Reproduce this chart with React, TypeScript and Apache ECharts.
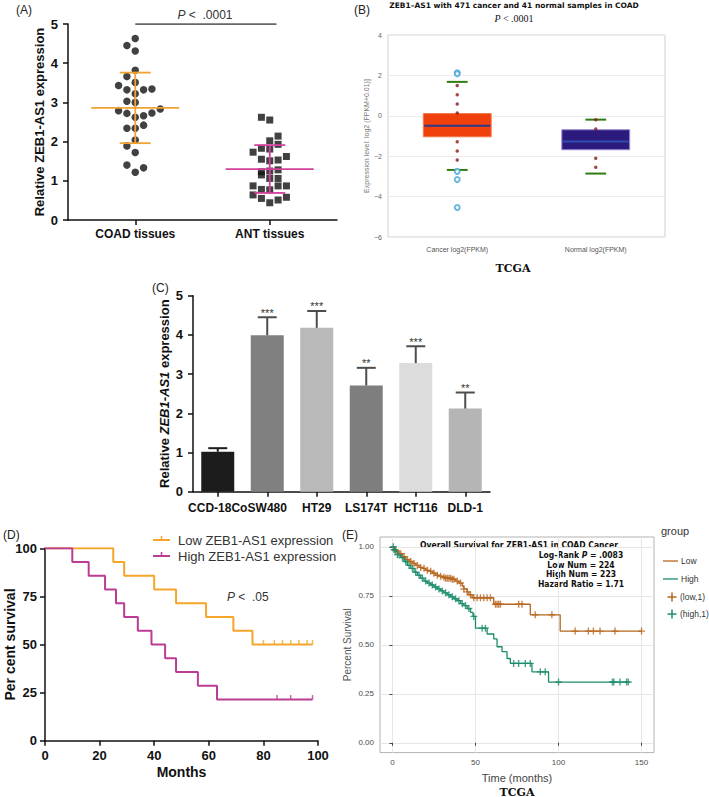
import React, { useEffect, useRef } from "react";
import * as echarts from "echarts";

const FONT = "'Liberation Sans', Arial, Helvetica, sans-serif";
const COND = "'DejaVu Sans Condensed', 'Liberation Sans Narrow', 'DejaVu Sans', sans-serif";

// ---------- Panel A: scatter dot plot ----------
const aCategories = ["COAD tissues", "ANT tissues"];
const coadValues = [4.63, 4.45, 4.31, 3.82, 3.66, 3.51, 3.43, 3.32, 3.32, 3.34, 3.22, 3.03, 3.0, 2.79, 2.72, 2.62, 2.66, 2.73, 2.83, 2.34, 2.34, 2.42, 2.04, 1.89, 1.72, 1.4, 1.33, 1.22];
const coadSlots = [0, -1, 0, 0, -1, 0, -2, -1, 1, 2, 0, -1, 0, -2, -1, 0, 1, 2, 3, -1, 0, 1, 0, -1, 0, -1, 1, 0];
const antValues = [2.62, 2.55, 2.14, 2.02, 1.93, 1.83, 1.81, 1.73, 1.62, 1.55, 1.51, 1.53, 1.28, 1.23, 1.25, 1.15, 1.06, 1.06, 0.87, 0.87, 0.87, 0.78, 0.77, 0.64, 0.55, 0.58, 0.51, 0.44];
const antSlots = [-1, 0, 1, 0, 1, -1, 0, -2, 2, -1, 0, 1, 1, -1, 0, -1, 1, 0, -2, 1, 2, -1, 0, -2, -1, 2, 1, 0];
const aMeans = [2.86, 1.3];
const aSds = [0.9, 0.61];
const aLineColors = ["#f0a330", "#d2409c"];

// ---------- Panel B: TCGA box plot ----------
const bTitle = "ZEB1\u2013AS1 with 471 cancer and 41 normal samples in COAD";
const bCategories = ["Cancer log2(FPKM)", "Normal log2(FPKM)"];
const bLowCap = [-2.68, -2.86];
const bQ1 = [-1.04, -1.68];
const bMedian = [-0.49, -1.27];
const bQ3 = [0.11, -0.69];
const bHighCap = [1.68, -0.19];
const bCancerDots = [1.5, 1.04, 0.58, 0.14, -1.28, -1.74, -2.19];
const bNormalDots = [-0.2, -0.65, -2.1, -2.55];
const bCancerOutliers = [2.13, 2.08, -2.75, -3.15, -4.54];
const bBoxColors = ["#f0400c", "#2c1a7c"];
const bBoxBorders = ["#f27a4a", "#9a88d6"];
const bMedianColors = ["#2b3a8a", "#2f4cb0"];

// ---------- Panel C: cell-line bars ----------
const cCategories = ["CCD-18Co", "SW480", "HT29", "LS174T", "HCT116", "DLD-1"];
const cMeans = [1.02, 3.99, 4.18, 2.71, 3.28, 2.12];
const cErrTop = [1.11, 4.45, 4.61, 3.16, 3.71, 2.53];
const cStars = ["", "***", "***", "**", "***", "**"];
const cColors = ["#1c1c1c", "#808080", "#b9b9b9", "#7e7e7e", "#dcdcdc", "#b5b5b5"];

// ---------- Panel D: Kaplan-Meier (own cohort) ----------
const dLowSteps = [[0, 100], [25, 92.9], [29, 85.7], [40, 78.6], [48, 71.4], [59, 64.3], [69, 57.1], [76, 50], [98, 50]];
const dHighSteps = [[0, 100], [10, 92.9], [16, 85.7], [22, 78.6], [26, 71.4], [29, 64.3], [34, 57.1], [39, 50], [44, 42.9], [48, 35.7], [56, 28.6], [63, 21.4], [98, 21.4]];
const dLowCensor = [80, 84, 87, 90, 93, 96, 98];
const dHighCensor = [85, 90, 98];

// ---------- Panel E: Kaplan-Meier (TCGA) ----------
const eLowSteps = [[0, 1], [1, 0.99], [2, 0.98], [4, 0.965], [6, 0.95], [8, 0.935], [10, 0.925], [12, 0.915], [14, 0.905], [16, 0.895], [18, 0.89], [20, 0.88], [22, 0.875], [24, 0.865], [26, 0.855], [28, 0.85], [30, 0.845], [32, 0.84], [36, 0.835], [38, 0.825], [40, 0.815], [42, 0.8], [43, 0.785], [45, 0.77], [46, 0.755], [48, 0.74], [61, 0.707], [83, 0.653], [101, 0.57], [150, 0.57]];
const eHighSteps = [[0, 1], [1, 0.985], [2, 0.975], [3, 0.96], [5, 0.945], [7, 0.925], [9, 0.905], [11, 0.89], [13, 0.87], [15, 0.855], [17, 0.84], [19, 0.825], [21, 0.815], [23, 0.805], [25, 0.795], [27, 0.785], [29, 0.775], [31, 0.765], [33, 0.755], [35, 0.745], [37, 0.735], [39, 0.725], [41, 0.71], [43, 0.7], [45, 0.685], [47, 0.665], [48.5, 0.645], [50, 0.585], [57, 0.555], [61, 0.53], [63, 0.49], [66, 0.465], [69, 0.43], [71, 0.405], [84, 0.362], [94, 0.31], [142, 0.31]];
const eLowCensor = [2, 5, 7, 9, 11, 13, 15, 17, 19, 21, 23, 25, 27, 29, 31, 32, 33, 34, 35, 36, 37, 39, 41, 43, 45, 47, 49, 51, 53, 55, 57, 59, 62, 63, 64, 65, 76, 78, 86, 96, 110, 118, 121, 125, 134, 150];
const eHighCensor = [0.5, 1, 1.5, 3, 4, 6, 8, 10, 12, 14, 16, 18, 20, 22, 24, 26, 28, 30, 32, 34, 36, 38, 40, 42, 44, 46, 49, 54, 56, 73, 76, 80, 83, 89, 92, 100, 132.5, 133.3, 137, 141, 142];
const eTicksX = [0, 50, 100, 150];
const eTicksY = [0, 0.25, 0.5, 0.75, 1];
const eStats = ["Log-Rank P = .0083", "Low Num = 224", "High Num = 223", "Hazard Ratio = 1.71"];

const SLOT = 0.062;
const BROWN = "#b8661f";
const TEAL = "#1a8c6c";
const D_ORANGE = "#f5a52a";
const D_MAGENTA = "#bb3c94";
const PLUS = "path://M4,0H6V4H10V6H6V10H4V6H0V4H4Z";

function survAt(steps: number[][], t: number) {
  let v = steps[0][1];
  for (const [x, y] of steps) if (x <= t) v = y;
  return v;
}

const black = { color: "#111", width: 1.5 };
const bold = (size: number) => ({ color: "#111", fontWeight: "bold" as const, fontSize: size, fontFamily: FONT });

function buildOption(): any {
  const txt = (x: number, y: number, text: string, style: any) => ({
    type: "text",
    x,
    y,
    style: { text, fill: "#222", fontFamily: FONT, textVerticalAlign: "middle", ...style },
  });
  const ln = (x1: number, y1: number, x2: number, y2: number, stroke: string, lineWidth = 1.5) => ({
    type: "line",
    shape: { x1, y1, x2, y2 },
    style: { stroke, lineWidth },
  });

  const graphic: any[] = [
    txt(16, 10, "(A)", { fontSize: 12 }),
    txt(354, 10, "(B)", { fontSize: 12 }),
    txt(152, 288, "(C)", { fontSize: 12 }),
    txt(3, 535, "(D)", { fontSize: 12 }),
    txt(342, 535, "(E)", { fontSize: 12 }),
    txt(205, 15, "{i|P} <  .0001", { fontSize: 12, fill: "#333", textAlign: "center", rich: { i: { fontStyle: "italic", fontSize: 12, fill: "#333" } } }),
    txt(514, 18, "{i|P} < .0001", { fontSize: 10, fontFamily: "'Liberation Serif', serif", textAlign: "center", fill: "#111", rich: { i: { fontStyle: "italic", fontSize: 10, fontFamily: "'Liberation Serif', serif" } } }),
    txt(513, 268, "TCGA", { fontSize: 11, fontWeight: "bold", fontFamily: "'DejaVu Serif', serif", textAlign: "center", fill: "#111" }),
    txt(517, 792, "TCGA", { fontSize: 11, fontWeight: "bold", fontFamily: "'DejaVu Serif', serif", textAlign: "center", fill: "#111" }),
    // Panel D legend
    ln(153, 540, 170, 540, D_ORANGE, 2),
    ln(161.5, 536, 161.5, 540, D_ORANGE, 1.5),
    txt(178, 540, "Low ZEB1-AS1 expression", { fontSize: 13, fill: "#333" }),
    ln(153, 556, 170, 556, D_MAGENTA, 2),
    ln(161.5, 552, 161.5, 556, D_MAGENTA, 1.5),
    txt(178, 556, "High ZEB1-AS1 expression", { fontSize: 13, fill: "#333" }),
    txt(227, 597, "{i|P} <  .05", { fontSize: 12, fill: "#333", rich: { i: { fontStyle: "italic", fontSize: 12, fill: "#333" } } }),
    // Panel E annotation
    txt(519, 545, "Overall Survival for ZEB1-AS1 in COAD Cancer", {
      fontSize: 8.5, fontWeight: "bold", fontFamily: COND, textAlign: "center", fill: "#111",
    }),
    ...eStats.map((s, i) =>
      txt(581, 555 + i * 9.6, s.replace("P =", "{i|P} ="), {
        fontSize: 8.5, fontWeight: "bold", fontFamily: COND, textAlign: "center", fill: "#111",
        rich: { i: { fontStyle: "italic", fontWeight: "bold", fontSize: 8.5, fontFamily: COND } },
      })
    ),
    // Panel E legend
    txt(661, 531, "group", { fontSize: 11, fill: "#333" }),
    ln(663, 561, 678, 561, BROWN, 1.3),
    txt(681, 561, "Low", { fontSize: 8.5, fill: "#333" }),
    ln(663, 579, 678, 579, TEAL, 1.3),
    txt(681, 579, "High", { fontSize: 8.5, fill: "#333" }),
    ln(667.5, 597, 676.5, 597, BROWN, 1.5),
    ln(672, 592.5, 672, 601.5, BROWN, 1.5),
    txt(680, 597, "(low,1)", { fontSize: 8.5, fill: "#333" }),
    ln(667.5, 614, 676.5, 614, TEAL, 1.5),
    ln(672, 609.5, 672, 618.5, TEAL, 1.5),
    txt(680, 614, "(high,1)", { fontSize: 8.5, fill: "#333" }),
  ];

  return {
    animation: false,
    textStyle: { fontFamily: FONT },
    title: [
      {
        text: bTitle, left: 514, top: 1, textAlign: "center", padding: 0,
        textStyle: { fontSize: 7.5, fontWeight: "bold", fontFamily: "'DejaVu Sans', sans-serif", color: "#111" },
      },
    ],
    grid: [
      { left: 68, top: 24, width: 269, height: 196, outerBoundsMode: "none" },
      { left: 388, top: 35, width: 277, height: 202, show: true, borderColor: "#cfcfcf", borderWidth: 1, outerBoundsMode: "none" },
      { left: 193, top: 295.7, width: 297, height: 196, outerBoundsMode: "none" },
      { left: 45, top: 548.3, width: 273, height: 192.4, outerBoundsMode: "none" },
      { left: 380, top: 537, width: 274, height: 215.6, show: true, borderColor: "#b3b3b3", borderWidth: 1, outerBoundsMode: "none" },
    ],
    xAxis: [
      { gridIndex: 0, type: "value", min: 0, max: 2, show: false, position: "bottom" },
      {
        gridIndex: 0, type: "category", data: aCategories, boundaryGap: true, position: "bottom",
        axisLine: { show: true, lineStyle: black },
        axisTick: { show: true, alignWithLabel: true, length: 5, lineStyle: black },
        axisLabel: { ...bold(12), margin: 8, interval: 0 },
        splitLine: { show: false },
      },
      {
        gridIndex: 1, type: "category", data: bCategories,
        axisLine: { show: false }, axisTick: { show: false },
        axisLabel: { color: "#555", fontSize: 7, margin: 9, interval: 0 },
        splitLine: { show: false },
      },
      {
        gridIndex: 2, type: "category", data: cCategories,
        axisLine: { show: true, lineStyle: black },
        axisTick: { show: true, alignWithLabel: true, length: 5, lineStyle: black },
        axisLabel: { ...bold(12), margin: 10, interval: 0, hideOverlap: false },
        splitLine: { show: false },
      },
      {
        gridIndex: 3, type: "value", min: 0, max: 100, interval: 20,
        axisLine: { show: true, lineStyle: black },
        axisTick: { show: true, length: 5, lineStyle: black },
        axisLabel: { ...bold(13), margin: 8 },
        splitLine: { show: false },
        name: "Months", nameLocation: "middle", nameGap: 24, nameMoveOverlap: false,
        nameTextStyle: bold(14),
      },
      {
        gridIndex: 4, type: "value", min: -7.5, max: 157.5,
        axisLine: { show: false },
        axisTick: { show: true, length: 3, lineStyle: { color: "#444" }, customValues: eTicksX },
        axisLabel: { color: "#4d4d4d", fontSize: 8, margin: 6, customValues: eTicksX },
        splitLine: { show: true, lineStyle: { color: "#e6e6e6" } },
        name: "Time (months)", nameLocation: "middle", nameGap: 20, nameMoveOverlap: false,
        nameTextStyle: { color: "#444", fontSize: 11 },
      },
    ],
    yAxis: [
      {
        gridIndex: 0, type: "value", min: 0, max: 5, interval: 1,
        axisLine: { show: true, lineStyle: black },
        axisTick: { show: true, length: 5, lineStyle: black },
        axisLabel: { ...bold(13), margin: 10 },
        splitLine: { show: false },
        name: "Relative ZEB1-AS1 expression", nameLocation: "middle", nameGap: 22, nameMoveOverlap: false,
        nameTextStyle: bold(13),
      },
      {
        gridIndex: 1, type: "value", min: -6, max: 4, interval: 2,
        axisLine: { show: false }, axisTick: { show: false },
        axisLabel: { color: "#666", fontSize: 7, margin: 6, formatter: (v: number) => (v < 0 ? "\u2212" + Math.abs(v) : String(v)) },
        splitLine: { show: true, lineStyle: { color: "#ececec" } },
        name: "Expression level: log2 (FPKM+0.01)]", nameLocation: "middle", nameGap: 18, nameMoveOverlap: false,
        nameTextStyle: { color: "#777", fontSize: 7 },
      },
      {
        gridIndex: 2, type: "value", min: 0, max: 5, interval: 1,
        axisLine: { show: true, lineStyle: black },
        axisTick: { show: true, length: 5, lineStyle: black },
        axisLabel: { ...bold(13), margin: 10 },
        splitLine: { show: false },
        name: "{n|Relative }{i|ZEB1-AS1}{n| expression}", nameLocation: "middle", nameGap: 22, nameMoveOverlap: false,
        nameTextStyle: { rich: { n: bold(13), i: { ...bold(13), fontStyle: "italic" } } },
      },
      {
        gridIndex: 3, type: "value", min: 0, max: 100, interval: 25,
        axisLine: { show: true, lineStyle: black },
        axisTick: { show: true, length: 5, lineStyle: black },
        axisLabel: { ...bold(13), margin: 8 },
        splitLine: { show: false },
        name: "Per cent survival", nameLocation: "middle", nameGap: 28, nameMoveOverlap: false,
        nameTextStyle: bold(14),
      },
      {
        gridIndex: 4, type: "value", min: -0.05, max: 1.05,
        axisLine: { show: false },
        axisTick: { show: true, length: 3, lineStyle: { color: "#444" }, customValues: eTicksY },
        axisLabel: { color: "#4d4d4d", fontSize: 8, margin: 6, customValues: eTicksY, formatter: (v: number) => v.toFixed(2) },
        splitLine: { show: true, lineStyle: { color: "#e6e6e6" } },
        name: "Percent Survival", nameLocation: "middle", nameGap: 28, nameMoveOverlap: false,
        nameTextStyle: { color: "#555", fontSize: 10 },
      },
    ],
    series: [
      // ---- A ----
      {
        type: "custom", xAxisIndex: 0, yAxisIndex: 0, z: 3,
        data: aMeans.map((m, i) => [i + 0.5, m, aSds[i]]),
        encode: { x: 0, y: 1 },
        renderItem: (params: any, api: any) => {
          const i = params.dataIndex;
          const cx = api.value(0), m = api.value(1), sd = api.value(2);
          const pm = api.coord([cx, m]);
          const pu = api.coord([cx, m + sd]);
          const pl = api.coord([cx, m - sd]);
          const col = aLineColors[i];
          const hw = 44, sw = 15.5;
          return {
            type: "group",
            children: [
              ln(pm[0], pu[1], pm[0], pl[1], col, 1.8),
              ln(pm[0] - hw, pm[1], pm[0] + hw, pm[1], col, 1.8),
              ln(pm[0] - sw, pu[1], pm[0] + sw, pu[1], col, 1.8),
              ln(pm[0] - sw, pl[1], pm[0] + sw, pl[1], col, 1.8),
            ],
          };
        },
      },
      {
        type: "scatter", xAxisIndex: 0, yAxisIndex: 0, symbol: "circle", symbolSize: 7.5, z: 2,
        itemStyle: { color: "#121212" },
        data: coadValues.map((v, i) => [0.5 + coadSlots[i] * SLOT, v]),
      },
      {
        type: "scatter", xAxisIndex: 0, yAxisIndex: 0, symbol: "rect", symbolSize: 7, z: 2,
        itemStyle: { color: "#121212" },
        data: antValues.map((v, i) => [1.5 + antSlots[i] * SLOT, v]),
      },
      {
        type: "line", xAxisIndex: 0, yAxisIndex: 0, symbol: "none",
        lineStyle: { color: "#333", width: 1.5 },
        data: [[0.5, 5], [1.55, 5]],
      },
      // ---- B ----
      {
        type: "custom", xAxisIndex: 2, yAxisIndex: 1, z: 2,
        data: bCategories.map((_, i) => [i, bLowCap[i], bQ1[i], bMedian[i], bQ3[i], bHighCap[i]]),
        encode: { x: 0, y: [1, 2, 3, 4, 5] },
        renderItem: (params: any, api: any) => {
          const i = params.dataIndex;
          const c = api.value(0);
          const band = api.size([1, 0])[0];
          const bw = band * 0.49, cw = band * 0.15;
          const pLow = api.coord([c, api.value(1)]);
          const pQ1 = api.coord([c, api.value(2)]);
          const pMed = api.coord([c, api.value(3)]);
          const pQ3 = api.coord([c, api.value(4)]);
          const pHigh = api.coord([c, api.value(5)]);
          const x = pQ3[0];
          return {
            type: "group",
            children: [
              { type: "rect", shape: { x: x - bw / 2, y: pQ3[1], width: bw, height: pQ1[1] - pQ3[1] }, style: { fill: bBoxColors[i], stroke: bBoxBorders[i], lineWidth: 1 } },
              ln(x - bw / 2 + 1, pMed[1], x + bw / 2 - 1, pMed[1], bMedianColors[i], 2),
              ln(x - cw / 2, pLow[1], x + cw / 2, pLow[1], "#2f7d12", 2),
              ln(x - cw / 2, pHigh[1], x + cw / 2, pHigh[1], "#2f7d12", 2),
            ],
          };
        },
      },
      {
        type: "scatter", xAxisIndex: 2, yAxisIndex: 1, symbol: "circle", symbolSize: 3.5, z: 4,
        itemStyle: { color: "#8b1a1a" },
        data: [...bCancerDots.map((v) => [0, v]), ...bNormalDots.map((v) => [1, v])],
      },
      {
        type: "scatter", xAxisIndex: 2, yAxisIndex: 1, symbol: "emptyCircle", symbolSize: 5, z: 5,
        itemStyle: { color: "#4aa6d6", borderColor: "#4aa6d6", borderWidth: 1.2 },
        data: bCancerOutliers.map((v) => [0, v]),
      },
      // ---- C ----
      {
        type: "bar", xAxisIndex: 3, yAxisIndex: 2, barWidth: 33,
        data: cMeans.map((v, i) => ({ value: v, itemStyle: { color: cColors[i] } })),
      },
      {
        type: "custom", xAxisIndex: 3, yAxisIndex: 2, z: 3,
        data: cMeans.map((v, i) => [i, v, cErrTop[i]]),
        encode: { x: 0, y: [1, 2] },
        renderItem: (params: any, api: any) => {
          const i = params.dataIndex;
          const base = api.coord([api.value(0), api.value(1)]);
          const top = api.coord([api.value(0), api.value(2)]);
          const col = i === 0 ? "#1c1c1c" : "#4d4d4d";
          const cap = 9.5;
          return {
            type: "group",
            children: [
              ln(base[0], base[1], top[0], top[1], col, 2),
              ln(top[0] - cap, top[1], top[0] + cap, top[1], col, 2),
              { type: "text", x: top[0], y: top[1] + 1, style: { text: cStars[i], textAlign: "center", textVerticalAlign: "bottom", fontSize: 11, fill: "#333", fontFamily: FONT } },
            ],
          };
        },
      },
      // ---- D ----
      {
        type: "line", xAxisIndex: 4, yAxisIndex: 3, step: "end", symbol: "none",
        lineStyle: { color: D_ORANGE, width: 2 }, data: dLowSteps,
      },
      {
        type: "line", xAxisIndex: 4, yAxisIndex: 3, step: "end", symbol: "none",
        lineStyle: { color: D_MAGENTA, width: 2 }, data: dHighSteps,
      },
      {
        type: "scatter", xAxisIndex: 4, yAxisIndex: 3, symbol: "rect", symbolSize: [1.5, 4.5], symbolOffset: [0, -2.2],
        itemStyle: { color: D_ORANGE }, data: dLowCensor.map((t) => [t, survAt(dLowSteps, t)]),
      },
      {
        type: "scatter", xAxisIndex: 4, yAxisIndex: 3, symbol: "rect", symbolSize: [1.5, 4.5], symbolOffset: [0, -2.2],
        itemStyle: { color: D_MAGENTA }, data: dHighCensor.map((t) => [t, survAt(dHighSteps, t)]),
      },
      // ---- E ----
      {
        type: "line", xAxisIndex: 5, yAxisIndex: 4, step: "end", symbol: "none",
        lineStyle: { color: BROWN, width: 1.3 }, data: eLowSteps,
      },
      {
        type: "line", xAxisIndex: 5, yAxisIndex: 4, step: "end", symbol: "none",
        lineStyle: { color: TEAL, width: 1.3 }, data: eHighSteps,
      },
      {
        type: "scatter", xAxisIndex: 5, yAxisIndex: 4, symbol: PLUS, symbolSize: 7,
        itemStyle: { color: BROWN }, data: eLowCensor.map((t) => [t, survAt(eLowSteps, t)]),
      },
      {
        type: "scatter", xAxisIndex: 5, yAxisIndex: 4, symbol: PLUS, symbolSize: 7,
        itemStyle: { color: TEAL }, data: eHighCensor.map((t) => [t, survAt(eHighSteps, t)]),
      },
    ],
    graphic,
  };
}

export default function App() {
  const ref = useRef<HTMLDivElement>(null);
  useEffect(() => {
    document.body.style.margin = "0";
    const chart = echarts.init(ref.current!, null, { renderer: "svg" });
    chart.setOption(buildOption());
    return () => chart.dispose();
  }, []);
  return <div ref={ref} style={{ width: 709, height: 797, background: "#fff" }} />;
}
